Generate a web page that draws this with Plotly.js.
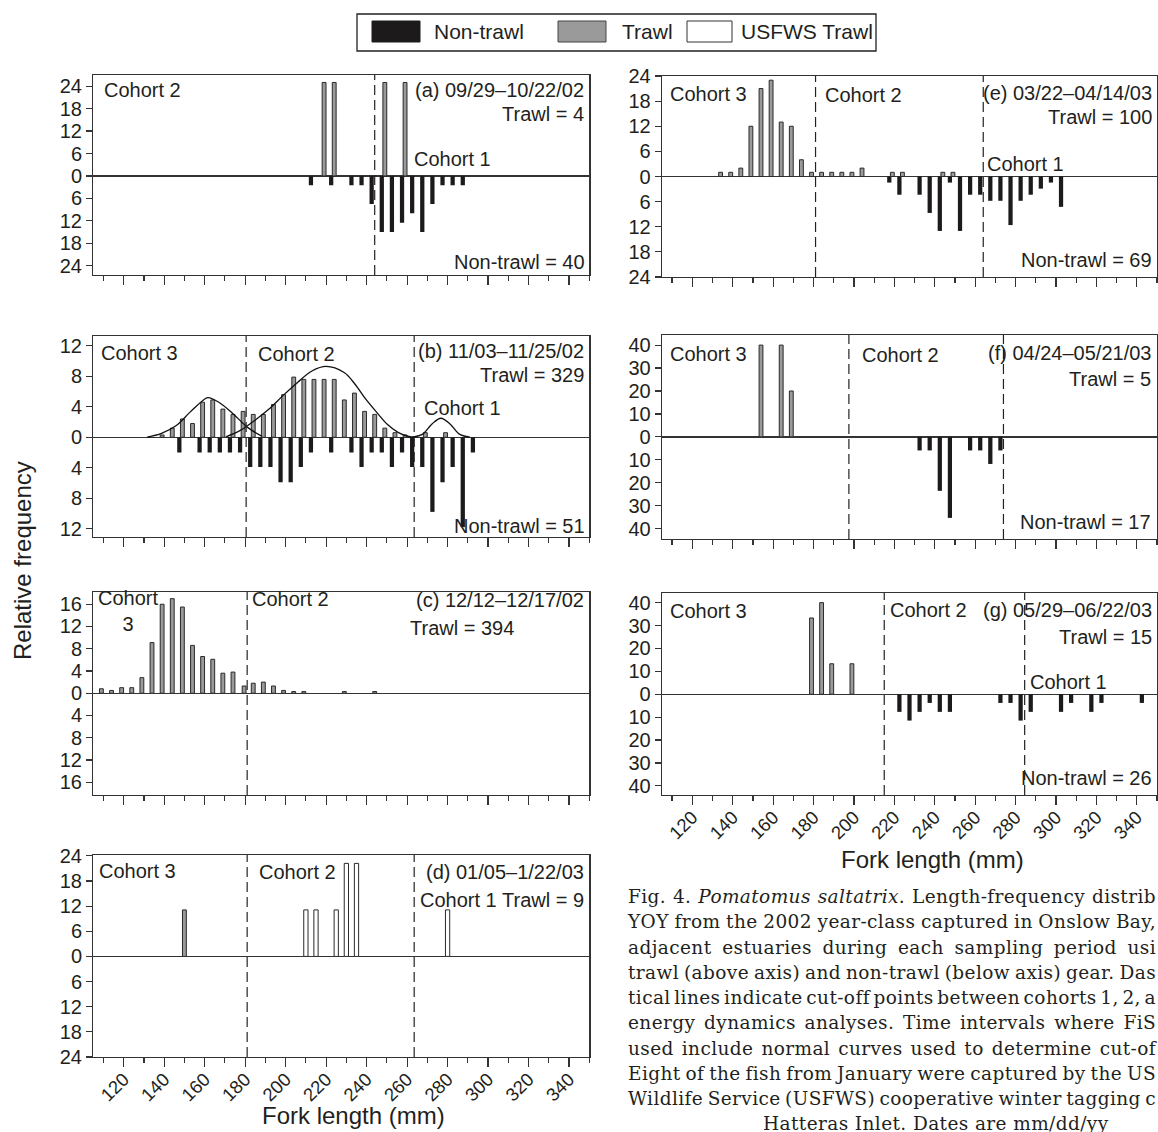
<!DOCTYPE html>
<html>
<head>
<meta charset="utf-8">
<script src="https://cdn.plot.ly/plotly-3.0.1.min.js"></script>
<style>
html,body{margin:0;padding:0;background:#fff;}
body{width:1158px;height:1132px;overflow:hidden;position:relative;}
#chart{position:absolute;left:0;top:0;width:1158px;height:1132px;}
#caption{position:absolute;left:628px;top:884px;width:530px;font-family:'DejaVu Serif',serif;font-size:18.5px;letter-spacing:0.4px;color:#231f20;}
#caption .j{height:25.3px;line-height:25.3px;white-space:nowrap;}
#caption .c{height:25.3px;line-height:24px;white-space:nowrap;padding-left:135px;}
</style>
</head>
<body>
<div id="chart"></div>
<div id="caption">
<div class="j"><span>Fig. 4. <i>Pomatomus saltatrix</i>. Length-frequency distrib</span></div>
<div class="j"><span>YOY from the 2002 year-class captured in Onslow Bay,</span></div>
<div class="j"><span>adjacent estuaries during each sampling period usi</span></div>
<div class="j"><span>trawl (above axis) and non-trawl (below axis) gear. Das</span></div>
<div class="j"><span>tical lines indicate cut-off points between cohorts 1, 2, a</span></div>
<div class="j"><span>energy dynamics analyses. Time intervals where FiS</span></div>
<div class="j"><span>used include normal curves used to determine cut-of</span></div>
<div class="j"><span>Eight of the fish from January were captured by the US</span></div>
<div class="j"><span>Wildlife Service (USFWS) cooperative winter tagging c</span></div>
<div class="c"><span>Hatteras Inlet. Dates are mm/dd/yy</span></div>
</div>
<script>
// ================= DATA =================
// shared fork-length axis
const forkRange = [105, 350];

// (a) 09/29–10/22/02
const yLabelsA = [24, 18, 12, 6, 0];
const trawlXA = [219, 224, 249, 259];
const trawlYA = [25, 25, 25, 25];
const nonTrawlXA = [212.5, 222.5, 232.5, 237.5, 242.5, 247.5, 252.5, 257.5, 262.5, 267.5, 272.5, 277.5, 282.5, 287.5];
const nonTrawlYA = [2.5, 2.5, 2.5, 2.5, 7.5, 15, 15, 12.5, 10, 15, 7.5, 2.5, 2.5, 2.5];
const cutoffsA = [244];

// (b) 11/03–11/25/02
const yLabelsB = [12, 8, 4, 0];
const trawlXB = [139, 144, 149, 154, 159, 164, 169, 174, 179, 184, 189, 194, 199, 204, 209, 214, 219, 224, 229, 234, 239, 244, 249, 254, 259, 269, 279];
const trawlYB = [0.3, 1.2, 2.4, 1.8, 4.6, 4.9, 3.7, 3.0, 3.4, 3.0, 3.0, 4.3, 5.6, 7.9, 7.6, 7.6, 7.6, 7.6, 4.9, 5.8, 3.4, 3.0, 1.2, 0.6, 0.3, 0.6, 0.6];
const nonTrawlXB = [147.5, 157.5, 162.5, 167.5, 172.5, 177.5, 182.5, 187.5, 192.5, 197.5, 202.5, 207.5, 212.5, 222.5, 232.5, 237.5, 242.5, 247.5, 252.5, 257.5, 262.5, 267.5, 272.5, 277.5, 282.5, 287.5, 292.5];
const nonTrawlYB = [2, 2, 2, 2, 2, 2, 3.9, 3.9, 3.9, 5.9, 5.9, 3.9, 2, 2, 2, 3.9, 2, 2, 3.9, 2, 3.9, 3.9, 9.8, 5.9, 3.9, 11.8, 2];
const cutoffsB = [180.5, 263.5];
const curve3XB = [131.6, 138.7, 145.8, 152.8, 159.9, 161.7, 167, 174, 181.2, 188.2];
const curve3YB = [0, 0.5, 1.5, 3.3, 5.0, 5.2, 4.6, 3.1, 1.3, 0.15];
const curve2XB = [170.5, 177.6, 184.7, 191.8, 198.8, 205.9, 213, 220, 228.9, 234.2, 239.6, 244.9, 250.2, 255.5, 260.8, 264];
const curve2YB = [0.05, 0.9, 2.2, 3.7, 5.5, 7.2, 8.7, 9.3, 8.5, 7.0, 5.0, 3.3, 1.7, 0.65, 0.1, 0];
const curve1XB = [262.6, 267.9, 272.3, 276.7, 281.2, 285.6, 291];
const curve1YB = [0, 0.45, 1.75, 2.5, 1.75, 0.45, 0];

// (c) 12/12–12/17/02
const yLabelsC = [16, 12, 8, 4, 0];
const trawlXC = [109, 114, 119, 124, 129, 134, 139, 144, 149, 154, 159, 164, 169, 174, 179.5, 184, 189, 194, 199, 204, 209, 229, 244];
const trawlYC = [0.8, 0.5, 1.0, 1.0, 2.8, 9.1, 16.0, 17.0, 15.5, 8.6, 6.6, 6.1, 3.6, 3.8, 1.3, 1.8, 2.0, 1.3, 0.5, 0.3, 0.3, 0.3, 0.3];
const nonTrawlXC = [];
const nonTrawlYC = [];
const cutoffsC = [181];

// (d) 01/05–1/22/03
const yLabelsD = [24, 18, 12, 6, 0];
const trawlXD = [150];
const trawlYD = [11.1];
const usfwsXD = [210, 215, 225, 230, 235, 280];
const usfwsYD = [11.1, 11.1, 11.1, 22.2, 22.2, 11.1];
const cutoffsD = [181, 263.5];

// (e) 03/22–04/14/03
const yLabelsE = [24, 18, 12, 6, 0];
const trawlXE = [134, 139, 144, 149, 154, 159, 164, 169, 174, 179, 184, 189, 194, 199, 204, 219, 224, 244, 249];
const trawlYE = [1, 1, 2, 12, 21, 23, 13, 12, 4, 1, 1, 1, 1, 1, 2, 1, 1, 1, 1];
const nonTrawlXE = [217.5, 222.5, 232.5, 237.5, 242.5, 247.5, 252.5, 257.5, 262.5, 267.5, 272.5, 277.5, 282.5, 287.5, 292.5, 297.5, 302.5];
const nonTrawlYE = [1.45, 4.35, 4.35, 8.7, 13.0, 1.45, 13.0, 4.35, 4.35, 5.8, 5.8, 11.6, 5.8, 4.35, 2.9, 1.45, 7.25];
const cutoffsE = [181, 264];

// (f) 04/24–05/21/03
const yLabelsF = [40, 30, 20, 10, 0];
const trawlXF = [154, 164, 169];
const trawlYF = [40, 40, 20];
const nonTrawlXF = [232.5, 237.5, 242.5, 247.5, 257.5, 262.5, 267.5, 272.5];
const nonTrawlYF = [5.9, 5.9, 23.5, 35.3, 5.9, 5.9, 11.8, 5.9];
const cutoffsF = [197.5, 274];

// (g) 05/29–06/22/03
const yLabelsG = [40, 30, 20, 10, 0];
const trawlXG = [179, 184, 189, 199];
const trawlYG = [33.3, 40, 13.3, 13.3];
const nonTrawlXG = [222.5, 227.5, 232.5, 237.5, 242.5, 247.5, 272.5, 277.5, 282.5, 287.5, 302.5, 307.5, 317.5, 322.5, 342.5];
const nonTrawlYG = [7.7, 11.5, 7.7, 3.8, 7.7, 7.7, 3.8, 3.8, 11.5, 7.7, 7.7, 3.8, 7.7, 3.8, 3.8];
const cutoffsG = [215, 284.5];

// ================= LAYOUT / STYLE =================
const W = 1158, H = 1132;
const FONT = 'Liberation Sans, Arial, Helvetica, sans-serif';
const INK = '#231f20';
const BLACK = '#1c1a1b';
const GRAY = '#9a9a9a';
const COLS = [[93.3, 589.3], [662, 1157]];
const px = v => v / W;
const py = v => 1 - v / H;

const panels = [
  {col: 0, top: 75,  bottom: 275,  yr: [-26.5, 27],  yl: yLabelsA, tx: trawlXA, ty: trawlYA, nx: nonTrawlXA, ny: nonTrawlYA, cut: cutoffsA, labels: false},
  {col: 0, top: 336, bottom: 537,  yr: [-13.1, 13.3], yl: yLabelsB, tx: trawlXB, ty: trawlYB, nx: nonTrawlXB, ny: nonTrawlYB, cut: cutoffsB, labels: false,
   curves: [[curve3XB, curve3YB], [curve2XB, curve2YB], [curve1XB, curve1YB]]},
  {col: 0, top: 592, bottom: 795,  yr: [-18.3, 18.2], yl: yLabelsC, tx: trawlXC, ty: trawlYC, nx: nonTrawlXC, ny: nonTrawlYC, cut: cutoffsC, labels: false},
  {col: 0, top: 855, bottom: 1057, yr: [-24, 24.2],   yl: yLabelsD, tx: trawlXD, ty: trawlYD, nx: [], ny: [], ux: usfwsXD, uy: usfwsYD, cut: cutoffsD, labels: true},
  {col: 1, top: 76,  bottom: 277,  yr: [-24, 24],     yl: yLabelsE, tx: trawlXE, ty: trawlYE, nx: nonTrawlXE, ny: nonTrawlYE, cut: cutoffsE, labels: false},
  {col: 1, top: 335, bottom: 539,  yr: [-44.5, 44.4], yl: yLabelsF, tx: trawlXF, ty: trawlYF, nx: nonTrawlXF, ny: nonTrawlYF, cut: cutoffsF, labels: false},
  {col: 1, top: 593, bottom: 795,  yr: [-44, 44.2],   yl: yLabelsG, tx: trawlXG, ty: trawlYG, nx: nonTrawlXG, ny: nonTrawlYG, cut: cutoffsG, labels: true}
];

const data = [];
const layout = {
  width: W, height: H,
  margin: {l: 0, r: 0, t: 0, b: 0},
  paper_bgcolor: '#fff', plot_bgcolor: 'rgba(0,0,0,0)',
  showlegend: false, barmode: 'overlay',
  font: {family: FONT, color: INK},
  shapes: [], annotations: []
};

panels.forEach((p, i) => {
  const s = i === 0 ? '' : String(i + 1);
  const xa = 'x' + s, ya = 'y' + s;
  const tickvals = p.yl.concat(p.yl.slice(0, -1).reverse().map(v => -v));
  const ticktext = tickvals.map(v => String(Math.abs(v)));
  layout['xaxis' + s] = {
    domain: [px(COLS[p.col][0]), px(COLS[p.col][1])],
    range: forkRange, anchor: ya,
    showline: true, mirror: true, linecolor: '#333', linewidth: 1.3,
    showgrid: false, zeroline: false,
    ticks: 'outside', tick0: 120, dtick: 20, ticklen: 9, tickwidth: 1.2, tickcolor: '#333',
    minor: {ticks: 'outside', tick0: 110, dtick: 10, ticklen: 5, tickwidth: 1.2, tickcolor: '#333', showgrid: false},
    showticklabels: p.labels, tickangle: -45, ticklabelstandoff: -6,
    tickfont: {family: FONT, size: 18.5, color: INK},
    fixedrange: true
  };
  layout['yaxis' + s] = {
    domain: [py(p.bottom), py(p.top)],
    range: p.yr, anchor: xa,
    showline: true, mirror: true, linecolor: '#333', linewidth: 1.3,
    showgrid: false,
    zeroline: true, zerolinecolor: '#333', zerolinewidth: 1.4,
    ticks: 'outside', ticklen: 6, tickwidth: 1.2, tickcolor: '#333',
    tickmode: 'array', tickvals: tickvals, ticktext: ticktext,
    tickfont: {family: FONT, size: 20, color: INK},
    fixedrange: true
  };
  if (p.nx.length) {
    data.push({type: 'bar', x: p.nx, y: p.ny.map(v => -v), xaxis: xa, yaxis: ya, width: 2.1,
      marker: {color: BLACK, line: {width: 0}}, textposition: 'none'});
  }
  data.push({type: 'bar', x: p.tx, y: p.ty, xaxis: xa, yaxis: ya, width: 1.9,
    marker: {color: GRAY, line: {color: '#2a2a2a', width: 1}}, textposition: 'none'});
  if (p.ux) {
    data.push({type: 'bar', x: p.ux, y: p.uy, xaxis: xa, yaxis: ya, width: 2.1,
      marker: {color: '#fff', line: {color: '#2a2a2a', width: 1}}, textposition: 'none'});
  }
  if (p.curves) {
    p.curves.forEach(c => data.push({type: 'scatter', mode: 'lines', x: c[0], y: c[1], xaxis: xa, yaxis: ya,
      line: {color: '#111', width: 1.3, shape: 'spline', smoothing: 1}}));
  }
  p.cut.forEach(c => layout.shapes.push({type: 'line', xref: xa, yref: ya + ' domain', x0: c, x1: c, y0: 0, y1: 1,
    line: {color: '#222', width: 1.2, dash: '10px,5px'}}));
});

// ---- text labels ----
function T(text, x, y, xanchor, size) {
  return {text: text, x: px(x), y: py(y), xref: 'paper', yref: 'paper', xanchor: xanchor || 'left', yanchor: 'middle',
    showarrow: false, align: 'center', font: {family: FONT, size: size || 20, color: INK}};
}
const labels = [
  // (a)
  T('Cohort 2', 102, 90), T('(a) 09/29–10/22/02', 586, 90, 'right'), T('Trawl = 4', 586, 114, 'right'),
  T('Cohort 1', 412, 159), T('Non-trawl = 40', 587, 262, 'right'),
  // (b)
  T('Cohort 3', 99, 353), T('Cohort 2', 256, 354), T('(b) 11/03–11/25/02', 586, 351, 'right'),
  T('Trawl = 329', 586, 375, 'right'), T('Cohort 1', 422, 408), T('Non-trawl = 51', 587, 526, 'right'),
  // (c)
  T('Cohort<br>3', 96, 611), T('Cohort 2', 250, 599), T('(c) 12/12–12/17/02', 586, 600, 'right'),
  T('Trawl = 394', 408, 628),
  // (d)
  T('Cohort 3', 97, 871), T('Cohort 2', 257, 872), T('(d) 01/05–1/22/03', 586, 872, 'right'),
  T('Cohort 1', 418, 900), T('Trawl = 9', 586, 900, 'right'),
  // (e)
  T('Cohort 3', 668, 94), T('Cohort 2', 823, 95), T('(e) 03/22–04/14/03', 1154, 93, 'right'),
  T('Trawl = 100', 1154, 117, 'right'), T('Cohort 1', 985, 164), T('Non-trawl = 69', 1154, 260, 'right'),
  // (f)
  T('Cohort 3', 668, 354), T('Cohort 2', 860, 355), T('(f) 04/24–05/21/03', 1153, 353, 'right'),
  T('Trawl = 5', 1153, 379, 'right'), T('Non-trawl = 17', 1153, 522, 'right'),
  // (g)
  T('Cohort 3', 668, 611), T('Cohort 2', 888, 610), T('(g) 05/29–06/22/03', 1154, 610, 'right'),
  T('Trawl = 15', 1154, 637, 'right'), T('Cohort 1', 1028, 682), T('Non-trawl = 26', 1154, 778, 'right'),
  // axis titles
  T('Fork length (mm)', 353, 1115, 'center', 24), T('Fork length (mm)', 932, 859, 'center', 24)
];
labels.push({text: 'Relative frequency', x: px(22), y: py(561), xref: 'paper', yref: 'paper', xanchor: 'center', yanchor: 'middle',
  textangle: -90, showarrow: false, font: {family: FONT, size: 24, color: INK}});

// ---- legend (drawn) ----
const legendItems = [
  {name: 'Non-trawl', fill: BLACK, line: BLACK, x0: 372, x1: 420, tx: 432},
  {name: 'Trawl', fill: GRAY, line: '#444', x0: 558, x1: 606, tx: 620},
  {name: 'USFWS Trawl', fill: '#fff', line: '#333', x0: 687, x1: 732, tx: 739}
];
layout.shapes.push({type: 'rect', xref: 'paper', yref: 'paper', x0: px(357), x1: px(876), y0: py(51), y1: py(14),
  line: {color: '#222', width: 1.3}, fillcolor: 'rgba(0,0,0,0)'});
legendItems.forEach(it => {
  layout.shapes.push({type: 'rect', xref: 'paper', yref: 'paper', x0: px(it.x0), x1: px(it.x1), y0: py(42), y1: py(21),
    line: {color: it.line, width: 1}, fillcolor: it.fill});
  labels.push(T(it.name, it.tx, 32, 'left', 21));
});
layout.annotations = labels;

Plotly.newPlot('chart', data, layout, {staticPlot: true, displayModeBar: false});

// ---- caption: justify each visible line to the 530px column ----
function justifyCaption() {
  const target = 528;
  document.querySelectorAll('#caption .j > span').forEach(sp => {
    sp.style.wordSpacing = '0px';
    const natural = sp.getBoundingClientRect().width;
    const spaces = (sp.textContent.match(/ /g) || []).length;
    if (spaces) sp.style.wordSpacing = ((target - natural) / spaces).toFixed(2) + 'px';
  });
}
justifyCaption();
if (document.fonts && document.fonts.ready) document.fonts.ready.then(justifyCaption);
</script>
</body>
</html>
